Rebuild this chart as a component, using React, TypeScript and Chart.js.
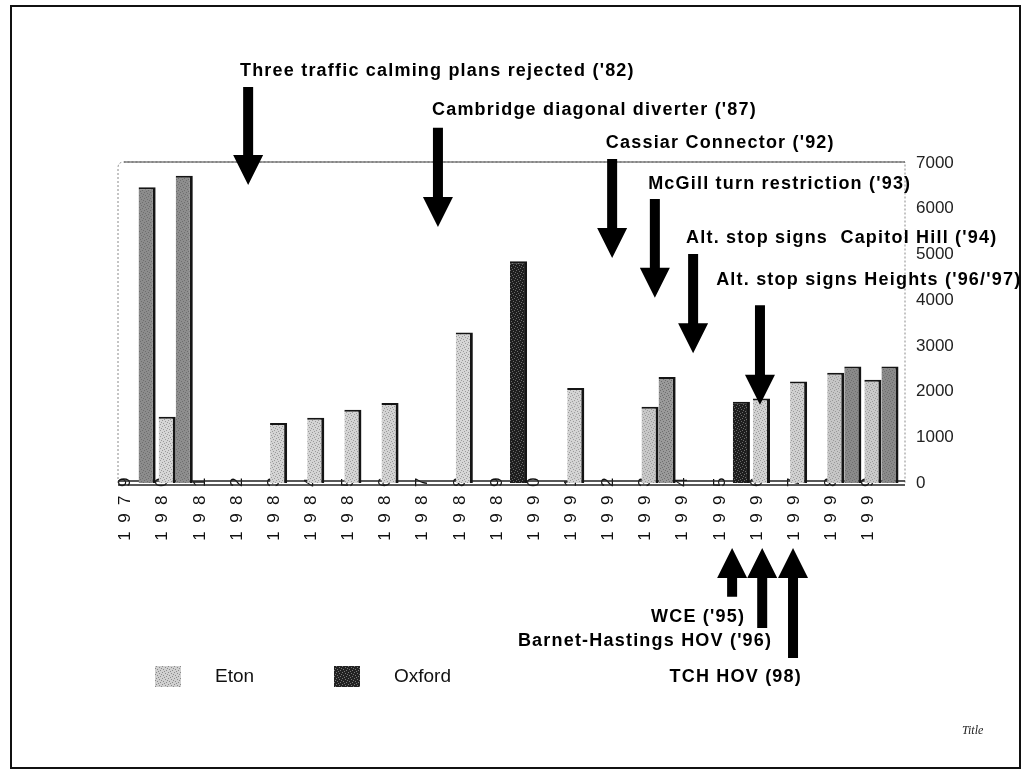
import React, { useEffect, useRef } from "react";
import { Chart, registerables } from "chart.js";

Chart.register(...registerables);

// ---------- data ----------
const years = [
  "1979", "1980", "1981", "1982", "1983", "1984", "1985", "1986", "1987", "1988", "1989",
  "1990", "1991", "1992", "1993", "1994", "1995", "1996", "1997", "1998", "1999",
];
const etonValues = [
  null, 1450, null, null, 1310, 1430, 1600, 1750, null, 3290, null,
  null, 2080, null, 1670, null, null, 1850, 2220, 2410, 2260,
];
const oxfordValues = [
  6470, 6720, null, null, null, null, null, null, null, null, 4850,
  null, null, null, 2320, null, 1780, null, null, 2550, 2550,
];
const etonFill = [
  "#d4d4d4", "#d6d6d6", "#d6d6d6", "#d6d6d6", "#d4d4d4", "#d4d4d4", "#d4d4d4", "#d4d4d4", "#d4d4d4", "#d6d6d6", "#d6d6d6",
  "#d6d6d6", "#d4d4d4", "#d4d4d4", "#c8c8c8", "#d4d4d4", "#d4d4d4", "#d2d2d2", "#d0d0d0", "#c6c6c6", "#c9c9c9",
];
const oxfordFill = [
  "#8c8c8c", "#8e8e8e", "#8c8c8c", "#8c8c8c", "#8c8c8c", "#8c8c8c", "#8c8c8c", "#8c8c8c", "#8c8c8c", "#8c8c8c", "#1e1e1e",
  "#8c8c8c", "#8c8c8c", "#8c8c8c", "#9a9a9a", "#8c8c8c", "#1e1e1e", "#8c8c8c", "#8c8c8c", "#8a8a8a", "#8a8a8a",
];
const seriesNames = ["Eton", "Oxford"];
const legendSwatches = ["#d0d0d0", "#222222"];
const yMin = 0;
const yMax = 7000;
const yStep = 1000;

// annotations, in data units (x = category position, y = value)
const downNotes = [
  { text: "Three traffic calming plans rejected ('82)", x: 2.95, top: 8660, tip: 6520, textX: 2.73, textY: 9010 },
  { text: "Cambridge diagonal diverter ('87)", x: 8.06, top: 7770, tip: 5600, textX: 7.9, textY: 8160 },
  { text: "Cassiar Connector ('92)", x: 12.75, top: 7090, tip: 4920, textX: 12.58, textY: 7440 },
  { text: "McGill turn restriction ('93)", x: 13.9, top: 6210, tip: 4050, textX: 13.72, textY: 6540 },
  { text: "Alt. stop signs  Capitol Hill ('94)", x: 14.93, top: 5010, tip: 2840, textX: 14.74, textY: 5360 },
  { text: "Alt. stop signs Heights ('96/'97)", x: 16.73, top: 3890, tip: 1710, textX: 15.55, textY: 4440 },
];
const upNotes = [
  { text: "WCE ('95)", x: 15.98, bottom: -2490, tip: -1420, textX: 16.33, textY: -2930 },
  { text: "Barnet-Hastings HOV ('96)", x: 16.79, bottom: -3170, tip: -1420, textX: 17.06, textY: -3450 },
  { text: "TCH HOV (98)", x: 17.62, bottom: -3830, tip: -1420, textX: 17.86, textY: -4250 },
];
const footTitle = "Title";

const SANS = '"Liberation Sans", Arial, sans-serif';

function drawArrow(ctx: CanvasRenderingContext2D, x: number, yStart: number, yTip: number) {
  const dir = yTip > yStart ? 1 : -1;
  const head = 30;
  const halfHead = 15;
  const halfShaft = 5;
  const yBase = yTip - dir * head;
  ctx.beginPath();
  ctx.moveTo(x - halfShaft, yStart);
  ctx.lineTo(x + halfShaft, yStart);
  ctx.lineTo(x + halfShaft, yBase);
  ctx.lineTo(x + halfHead, yBase);
  ctx.lineTo(x, yTip);
  ctx.lineTo(x - halfHead, yBase);
  ctx.lineTo(x - halfShaft, yBase);
  ctx.closePath();
  ctx.fill();
}

// speckled texture like the scanned original
function speckle(color: string, dot: string): CanvasPattern | string {
  const c = document.createElement("canvas");
  c.width = 6;
  c.height = 6;
  const g = c.getContext("2d");
  if (!g) return color;
  g.fillStyle = color;
  g.fillRect(0, 0, 6, 6);
  g.fillStyle = dot;
  const dots = [[0, 0], [3, 1], [1, 3], [4, 4], [5, 2], [2, 5]];
  for (const [dx, dy] of dots) g.fillRect(dx, dy, 1, 1);
  const p = g.createPattern(c, "repeat");
  return p || color;
}

const decorPlugin = {
  id: "decor",
  beforeDraw(chart: any) {
    const ctx: CanvasRenderingContext2D = chart.ctx;
    const { width, height, chartArea } = chart;
    ctx.save();
    ctx.fillStyle = "#ffffff";
    ctx.fillRect(0, 0, width, height);
    // outer frame
    ctx.strokeStyle = "#111";
    ctx.lineWidth = 2;
    ctx.strokeRect(11, 6, 1009, 762);
    // plot frame
    ctx.strokeStyle = "#8a8a8a";
    ctx.lineWidth = 1;
    ctx.setLineDash([2, 2]);
    const l = chartArea.left - 2;
    const r = chartArea.right + 5;
    const t = chartArea.top - 1;
    const b = chartArea.bottom;
    ctx.beginPath();
    ctx.moveTo(l, b);
    ctx.lineTo(l, t + 6);
    ctx.quadraticCurveTo(l, t, l + 6, t);
    ctx.lineTo(r, t);
    ctx.lineTo(r, b);
    ctx.stroke();
    ctx.setLineDash([]);
    ctx.strokeStyle = "#444";
    ctx.beginPath();
    ctx.moveTo(l + 6, t);
    ctx.lineTo(r, t);
    ctx.stroke();
    ctx.restore();
  },
  beforeDatasetsDraw(chart: any) {
    const ctx: CanvasRenderingContext2D = chart.ctx;
    const { chartArea } = chart;
    ctx.save();
    ctx.strokeStyle = "#222";
    ctx.lineWidth = 1.5;
    ctx.beginPath();
    ctx.moveTo(chartArea.left - 2, chartArea.bottom - 2);
    ctx.lineTo(chartArea.right + 5, chartArea.bottom - 2);
    ctx.moveTo(chartArea.left - 2, chartArea.bottom + 2);
    ctx.lineTo(chartArea.right + 5, chartArea.bottom + 2);
    ctx.stroke();
    ctx.restore();
  },
  afterDraw(chart: any) {
    const ctx: any = chart.ctx;
    const xs = chart.scales.x;
    const ys = chart.scales.y;
    ctx.save();
    ctx.fillStyle = "#000";
    ctx.font = `bold 18px ${SANS}`;
    ctx.letterSpacing = "1.2px";
    ctx.textBaseline = "middle";
    for (const n of downNotes) {
      const x = xs.getPixelForValue(n.x);
      drawArrow(ctx, x, ys.getPixelForValue(n.top), ys.getPixelForValue(n.tip));
      ctx.textAlign = "left";
      ctx.fillText(n.text, xs.getPixelForValue(n.textX), ys.getPixelForValue(n.textY));
    }
    for (const n of upNotes) {
      const x = xs.getPixelForValue(n.x);
      drawArrow(ctx, x, ys.getPixelForValue(n.bottom), ys.getPixelForValue(n.tip));
      ctx.textAlign = "right";
      ctx.fillText(n.text, xs.getPixelForValue(n.textX), ys.getPixelForValue(n.textY));
    }
    ctx.letterSpacing = "0px";
    // legend
    const legendX = [155, 334];
    chart.data.datasets.forEach((ds: any, i: number) => {
      const x0 = legendX[i];
      ctx.fillStyle = i === 0 ? speckle(legendSwatches[i], "#8a8a8a") : speckle(legendSwatches[i], "#777");
      ctx.fillRect(x0, 666, 26, 21);
      ctx.fillStyle = "#111";
      ctx.font = `19px ${SANS}`;
      ctx.textAlign = "left";
      ctx.fillText(ds.label, x0 + 60, 677);
    });
    // foot title
    ctx.font = 'italic 12px "Liberation Serif", serif';
    ctx.fillStyle = "#222";
    ctx.textAlign = "left";
    ctx.fillText(footTitle, 962, 731);
    ctx.restore();
  },
};

const spacingPlugin = {
  id: "xLetterSpacing",
  beforeDraw(chart: any) {
    const s: any = chart.scales.x;
    if (s && !s.__spaced) {
      const orig = s.drawLabels.bind(s);
      s._computeLabelArea = () => undefined;
      s.drawLabels = (area: any) => {
        const ctx: any = chart.ctx;
        ctx.save();
        ctx.letterSpacing = "8.5px";
        orig(area);
        ctx.restore();
      };
      s.__spaced = true;
    }
  },
};

export default function App() {
  const ref = useRef<HTMLCanvasElement | null>(null);
  useEffect(() => {
    if (!ref.current) return;
    const etonBg = etonFill.map((c) => speckle(c, "#9a9a9a"));
    const oxfordBg = oxfordFill.map((c) => speckle(c, c === "#1e1e1e" ? "#6a6a6a" : "#6e6e6e"));
    const chart = new Chart(ref.current, {
      type: "bar",
      data: {
        labels: years,
        datasets: [
          {
            label: seriesNames[0],
            data: etonValues as any,
            backgroundColor: etonBg as any,
            borderColor: "#151515",
            borderWidth: { top: 2, right: 3, left: 0, bottom: 0 } as any,
            categoryPercentage: 0.92,
            barPercentage: 1.0,
          },
          {
            label: seriesNames[1],
            data: oxfordValues as any,
            backgroundColor: oxfordBg as any,
            borderColor: "#151515",
            borderWidth: { top: 2, right: 3, left: 0, bottom: 0 } as any,
            categoryPercentage: 0.92,
            barPercentage: 1.0,
          },
        ],
      },
      options: {
        animation: false,
        responsive: true,
        maintainAspectRatio: false,
        layout: { padding: { left: 120, top: 163, right: 0, bottom: 0 } },
        plugins: { legend: { display: false }, title: { display: false }, tooltip: { enabled: false } },
        scales: {
          x: {
            type: "category",
            offset: true,
            grid: { display: false, drawTicks: false },
            border: { display: false },
            afterFit: (s: any) => {
              s.height = 290;
            },
            ticks: {
              autoSkip: false,
              maxRotation: 90,
              minRotation: 90,
              labelOffset: -13,
              padding: -14,
              color: "#111",
              font: { family: SANS, size: 17 },
            },
          },
          y: {
            position: "right",
            min: yMin,
            max: yMax,
            grid: { display: false, drawTicks: false },
            border: { display: false },
            afterFit: (s: any) => {
              s.width = 129;
            },
            ticks: {
              stepSize: yStep,
              padding: 16,
              color: "#222",
              font: { family: SANS, size: 17 },
              callback: (v: any) => String(v),
            },
          },
        },
      },
      plugins: [spacingPlugin, decorPlugin],
    });
    chart.draw();
    return () => chart.destroy();
  }, []);
  return (
    <div style={{ position: "fixed", left: 0, top: 0, width: 1029, height: 773, background: "#fff" }}>
      <canvas ref={ref} />
    </div>
  );
}
